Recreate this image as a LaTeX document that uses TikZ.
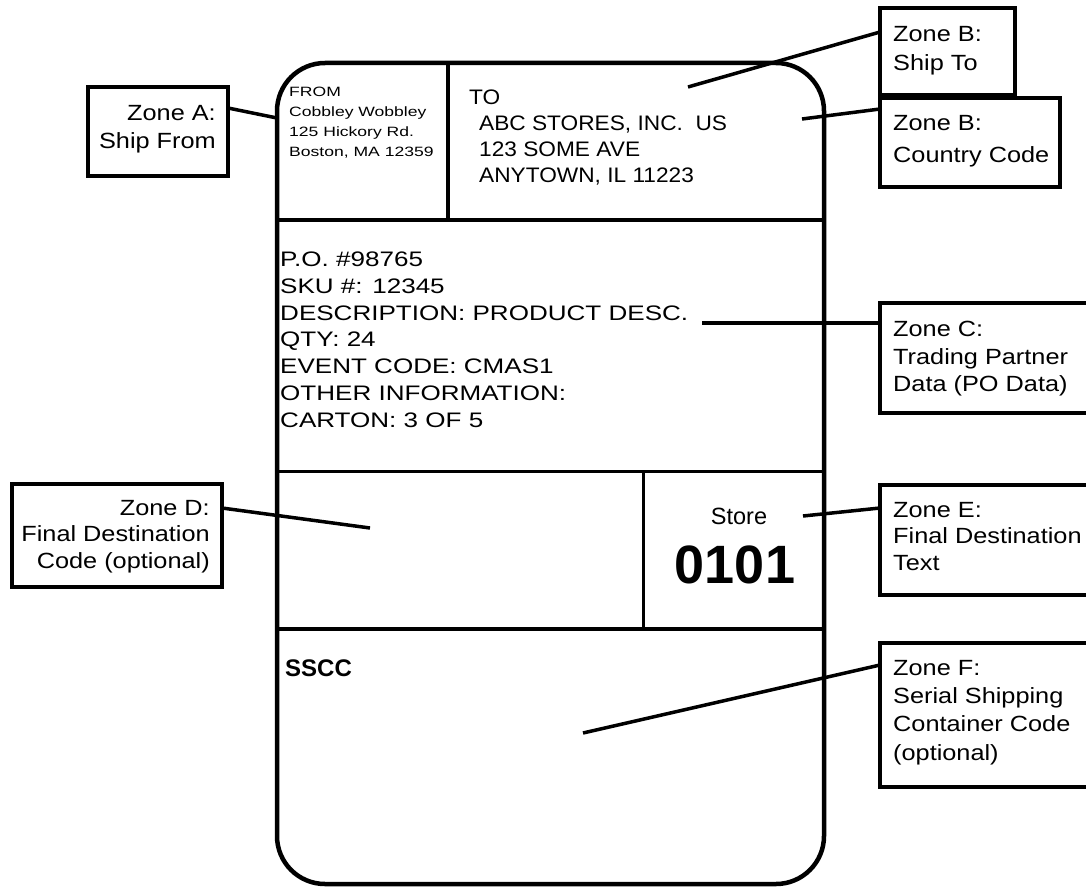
\documentclass[tikz,border=0pt]{standalone}
\usepackage{fontspec}
\setmainfont{Liberation Sans}
\newfontfamily\fcall[FakeStretch=1.15]{Liberation Sans}
\newfontfamily\fpo[FakeStretch=1.24]{Liberation Sans}
\newfontfamily\fto[FakeStretch=1.08]{Liberation Sans}
\newfontfamily\ffrom[FakeStretch=1.3]{Liberation Sans}
\begin{document}
\begin{tikzpicture}[x=1pt,y=-1pt,
  callbox/.style={draw, line width=4pt, inner sep=0pt, outer sep=0pt, anchor=north west},
  calltext/.style={inner sep=0pt, font=\fcall\fontsize{22}{#1}\selectfont},
  calltext/.default=27,
  leader/.style={line width=3.5pt},
  frameline/.style={line width=4.5pt},
  divider/.style={line width=3.5pt},
  thindiv/.style={line width=3pt},
  labtext/.style={inner sep=0pt, anchor=north west, align=left}]
\useasboundingbox[fill=white] (0,0) rectangle (1086,888);

% label outline and dividers
\draw[frameline, rounded corners=48pt] (277,63) rectangle (824,884);
\draw[divider] (277,220) -- (824,220);
\draw[frameline] (448,63) -- (448,220);
\draw[thindiv] (277,471) -- (824,471);
\draw[thindiv] (643,471) -- (643,629);
\draw[frameline] (277,629) -- (824,629);

% label contents
\node[labtext, font=\ffrom\fontsize{13.5}{20}\selectfont] (from) at (289,87)
  {FROM\\Cobbley Wobbley\\125 Hickory Rd.\\Boston, MA 12359};
\node[labtext, font=\fto\fontsize{21}{26}\selectfont] (to) at (469,90)
  {TO\\\hspace*{10pt}ABC STORES, INC.~~US\\\hspace*{10pt}123 SOME AVE\\\hspace*{10pt}ANYTOWN, IL 11223};
\node[labtext, font=\fpo\fontsize{21}{26.7}\selectfont] (po) at (280,252)
  {P.O. \#98765\\SKU \#: 12345\\DESCRIPTION: PRODUCT DESC.\\QTY: 24\\EVENT CODE: CMAS1\\OTHER INFORMATION:\\CARTON: 3 OF 5};
\node[inner sep=0pt, anchor=north, font=\fontsize{23.5}{23.5}\selectfont] (store) at (739,508) {Store};
\node[inner sep=0pt, anchor=north, font=\bfseries\fontsize{54}{54}\selectfont] (num) at (735,546) {0101};
\node[labtext, font=\bfseries\fontsize{24}{24}\selectfont] (sscc) at (285,660) {SSCC};

% callout boxes
\node[callbox, minimum width=140pt, minimum height=89pt] (bA) at (88,87) {};
\node[calltext=28, align=right, anchor=north east] (tA) at (216,105) {Zone A:\\Ship From};
\node[callbox, minimum width=135pt, minimum height=87pt] (bB1) at (880,8) {};
\node[calltext=29, align=left, anchor=north west] (tB1) at (893,26) {Zone B:\\Ship To};
\node[callbox, minimum width=180pt, minimum height=89pt] (bB2) at (880,98) {};
\node[calltext=32, align=left, anchor=north west] (tB2) at (893,115) {Zone B:\\Country Code};
\node[callbox, minimum width=212pt, minimum height=110pt] (bC) at (880,303) {};
\node[calltext=27.5, align=left, anchor=north west] (tC) at (893,321) {Zone C:\\Trading Partner\\Data (PO Data)};
\node[callbox, minimum width=210pt, minimum height=103pt] (bD) at (12,484) {};
\node[calltext=26.5, align=right, anchor=north east] (tD) at (210,500) {Zone D:\\Final Destination\\Code (optional)};
\node[callbox, minimum width=212pt, minimum height=110pt] (bE) at (880,485) {};
\node[calltext=26.5, align=left, anchor=north west] (tE) at (893,502) {Zone E:\\Final Destination\\Text};
\node[callbox, minimum width=212pt, minimum height=144pt] (bF) at (880,643) {};
\node[calltext=28.3, align=left, anchor=north west] (tF) at (893,660) {Zone F:\\Serial Shipping\\Container Code\\(optional)};

% leader lines
\coordinate (pA) at (277,118);
\coordinate (pB1) at (688,87);
\coordinate (pB2) at (802,119);
\coordinate (pC) at (702,323);
\coordinate (pD) at (370,528);
\coordinate (pE) at (803,516);
\coordinate (pF) at (583,733);
\draw[leader] ([yshift=23.5pt]bA.east) -- (pA);
\draw[leader] ([yshift=19.5pt]bB1.west) -- (pB1);
\draw[leader] ([yshift=33.5pt]bB2.west) -- (pB2);
\draw[leader] ([yshift=35pt]bC.west) -- (pC);
\draw[leader] ([yshift=27.5pt]bD.east) -- (pD);
\draw[leader] ([yshift=32pt]bE.west) -- (pE);
\draw[leader] ([yshift=50pt]bF.west) -- (pF);
\end{tikzpicture}
\end{document}
